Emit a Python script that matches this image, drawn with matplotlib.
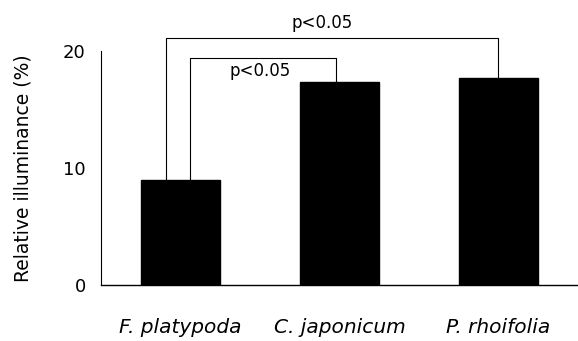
import matplotlib
matplotlib.use("Agg")
import matplotlib.pyplot as plt

species = ["F. platypoda", "C. japonicum", "P. rhoifolia"]
illuminance = [9.0, 17.4, 17.7]
yticks = [0, 10, 20]
sig_label = "p<0.05"

plt.rcParams['font.family'] = ['DejaVu Sans']

fig = plt.figure(figsize=(5.78, 3.41), dpi=100)
ax = fig.add_axes([0.1747, 0.164, 0.8253, 0.686])
x = list(range(len(species)))
ax.bar(x, illuminance, width=0.5, color='black', edgecolor='black')
ax.set_xlim(-0.5, 2.5)
ax.set_ylim(0, 20)
ax.set_yticks(yticks)
ax.set_yticklabels([str(t) for t in yticks], fontsize=13)
ax.tick_params(axis='y', length=0, pad=11)
ax.set_yticks([20], minor=True)
ax.tick_params(axis='y', which='minor', direction='in', length=4, width=0.8)
ax.set_xticks(x)
ax.set_xticklabels(species, fontsize=14.5, style='italic')
ax.tick_params(axis='x', length=0, pad=24)
for s in ['top', 'right']:
    ax.spines[s].set_visible(False)
ax.spines['left'].set_linewidth(0.8)
ax.spines['bottom'].set_linewidth(1.0)
ax.set_ylabel("Relative illuminance (%)", fontsize=13.5, labelpad=22)

# Significance brackets
def bracket(x1, x2, y1, y2, top, text, ty, tx):
    ax.plot([x1, x1, x2, x2], [y1, top, top, y2], color='black', lw=0.8, clip_on=False)
    ax.text(tx, ty, text, ha='center', va='center', fontsize=12, clip_on=False)

bracket(-0.088, 2.0, illuminance[0], illuminance[2], 21.1, sig_label, 22.4, 0.888)
bracket(0.063, 0.98, illuminance[0], illuminance[1], 19.45, sig_label, 18.3, 0.5)

fig.savefig("out.png", dpi=100)
